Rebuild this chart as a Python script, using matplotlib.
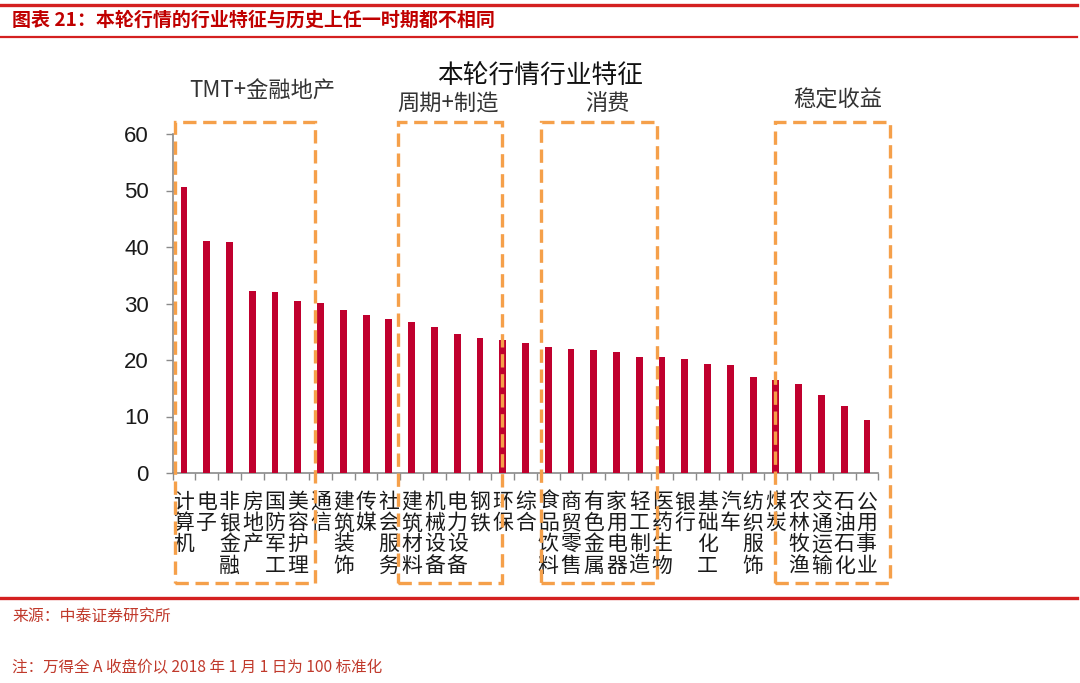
import numpy as np
import matplotlib
matplotlib.use("Agg")
import matplotlib.pyplot as plt
from matplotlib.lines import Line2D
from matplotlib.patches import Rectangle

plt.rcParams['font.family'] = ['Noto Sans CJK SC', 'DejaVu Sans']

# ---------------------- 数据 ----------------------
industries = ["计算机", "电子", "非银金融", "房地产", "国防军工", "美容护理", "通信",
              "建筑装饰", "传媒", "社会服务", "建筑材料", "机械设备", "电力设备", "钢铁",
              "环保", "综合", "食品饮料", "商贸零售", "有色金属", "家用电器", "轻工制造",
              "医药生物", "银行", "基础化工", "汽车", "纺织服饰", "煤炭", "农林牧渔",
              "交通运输", "石油石化", "公用事业"]
values = [50.6, 41.1, 40.9, 32.2, 32.0, 30.4, 30.1,
          28.8, 28.0, 27.3, 26.7, 25.8, 24.6, 23.9,
          23.5, 23.0, 22.3, 21.9, 21.8, 21.4, 20.6,
          20.6, 20.2, 19.3, 19.2, 17.0, 16.4, 15.8,
          13.8, 11.9, 9.4]
group_names = ["TMT+金融地产", "周期+制造", "消费", "稳定收益"]

# 分组虚线框的位置（类别坐标）和标签位置（像素）
box_spans = [(-0.4, 5.75), (9.4, 13.97), (15.7, 20.8), (25.95, 31.0)]
label_x_px = [262, 448, 607, 838]
label_y_px = [91, 103, 103, 100]

bar_color = "#C0002E"
box_color = "#F5A04A"
red = "#C00000"

W, H = 1080, 683
fig = plt.figure(figsize=(W / 100, H / 100), dpi=100)
ax = fig.add_axes([172.6 / W, 1 - 473 / H, (878.3 - 172.6) / W, (473 - 134) / H])

x = np.arange(len(industries))
ax.bar(x, values, width=0.3, color=bar_color, zorder=3)

ax.set_xlim(-0.5, len(industries) - 0.5)
ax.set_ylim(0, 60)
ax.set_yticks(np.arange(0, 61, 10))
ax.set_xticks(x)
ax.set_xticklabels(["\n".join(n) for n in industries], fontsize=15,
                   color="#1a1a1a", linespacing=0.95, va="top")
ax.set_xticks(np.arange(-0.5, len(industries), 1), minor=True)
ax.tick_params(axis="x", which="major", length=0, pad=13)
ax.tick_params(axis="x", which="minor", length=5, color="#8a8a8a", width=1)
ax.tick_params(axis="y", length=5, color="#8a8a8a", width=1, pad=12, labelsize=16,
               labelcolor="#1a1a1a")
for lab in ax.get_yticklabels():
    lab.set_family(["Liberation Sans", "DejaVu Sans"])
for s in ["top", "right"]:
    ax.spines[s].set_visible(False)
for s in ["left", "bottom"]:
    ax.spines[s].set_color("#8a8a8a")
    ax.spines[s].set_linewidth(1.2)

# 分组虚线框
y_top = (473 - 122) / 5.65
y_bot = (473 - 583) / 5.65
for (l, r), name, lx, ly in zip(box_spans, group_names, label_x_px, label_y_px):
    rect = Rectangle((l, y_bot), r - l, y_top - y_bot, fill=False,
                     edgecolor=box_color, linewidth=2.4, linestyle=(0, (4, 2)),
                     clip_on=False, zorder=5)
    ax.add_patch(rect)
    fig.text(lx / W, 1 - ly / H, name, ha="center", va="center", fontsize=16,
             color="#333333")

fig.text(540 / W, 1 - 77 / H, "本轮行情行业特征", ha="center", va="center",
         fontsize=18.5, color="#111111")

# 页眉页脚
for ypx, lw in [(5, 2.4), (37, 1.6), (598, 2.4)]:
    fig.add_artist(Line2D([0, 1077 / W], [1 - ypx / H] * 2, color="#D42020",
                          linewidth=lw, transform=fig.transFigure))
fig.text(12 / W, 1 - 20 / H, "图表 21：本轮行情的行业特征与历史上任一时期都不相同",
         ha="left", va="center", fontsize=13.7, color=red, fontweight="bold")
fig.text(12 / W, 1 - 617 / H, "来源：中泰证券研究所", ha="left", va="center",
         fontsize=11.4, color="#C0392B")
fig.text(12 / W, 1 - 668 / H, "注：万得全 A 收盘价以 2018 年 1 月 1 日为 100 标准化",
         ha="left", va="center", fontsize=11.2, color="#C0392B")

plt.savefig("out.png", dpi=100)
plt.close()
